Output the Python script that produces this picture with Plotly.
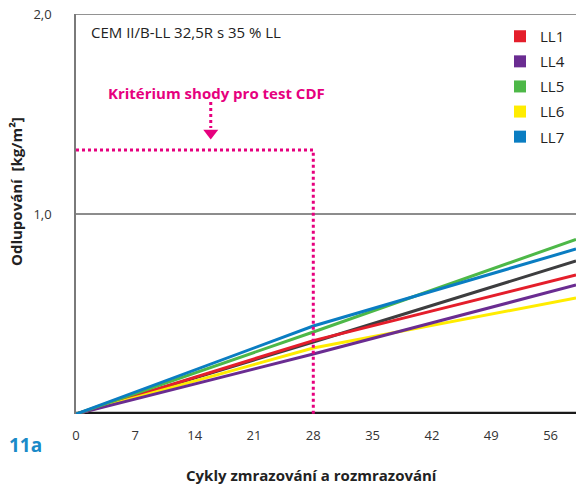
import plotly.graph_objects as go

# ---- data ----
cycles = [0, 28, 59]
series_names = ["LL1", "LL4", "LL5", "LL6", "LL7"]
ll1 = [0.0, 0.367, 0.695]
ll4 = [0.0, 0.300, 0.645]
ll5 = [0.0, 0.410, 0.873]
ll6 = [0.0, 0.330, 0.580]
ll7 = [0.0, 0.440, 0.825]
ref = [0.0, 0.360, 0.765]   # dark grey line (not in legend)
colors = ["#E41E2B", "#6A2C91", "#4DB848", "#FFEC00", "#0A7DC2"]
ref_color = "#3D3D3F"

crit_cycle = 28
crit_value = 1.32

x_ticks = [0, 7, 14, 21, 28, 35, 42, 49, 56]
y_ticks = [1, 2]
y_ticklabels = ["1,0", "2,0"]

FONT = "Open Sans"
PINK = "#E6007E"

fig = go.Figure()

values = {"LL1": ll1, "LL4": ll4, "LL5": ll5, "LL6": ll6, "LL7": ll7}
fig.add_trace(go.Scatter(x=cycles, y=ref, mode="lines",
                         line=dict(color=ref_color, width=3),
                         showlegend=False, hoverinfo="skip"))
for name, col in zip(["LL1", "LL6", "LL4", "LL5", "LL7"],
                     [colors[0], colors[3], colors[1], colors[2], colors[4]]):
    fig.add_trace(go.Scatter(x=cycles, y=values[name], mode="lines",
                             line=dict(color=col, width=3),
                             showlegend=False, hoverinfo="skip"))

# legend entries as squares
for name, col in zip(series_names, colors):
    fig.add_trace(go.Scatter(x=[None], y=[None], mode="markers", name=name,
                             marker=dict(symbol="square", size=11, color=col),
                             legendgroup=name, showlegend=True))

# criterion dotted lines
fig.add_trace(go.Scatter(x=[0, crit_cycle, crit_cycle],
                         y=[crit_value, crit_value, 0], mode="lines",
                         line=dict(color=PINK, width=3, dash="dot"),
                         showlegend=False, hoverinfo="skip"))

# arrow: dotted shaft + triangle head
fig.add_trace(go.Scatter(x=[15.9, 15.9], y=[1.56, 1.43], mode="lines",
                         line=dict(color=PINK, width=3, dash="dot"),
                         showlegend=False, hoverinfo="skip"))
fig.add_trace(go.Scatter(x=[15.9], y=[1.405], mode="markers",
                         marker=dict(symbol="triangle-down", size=13, color=PINK),
                         showlegend=False, hoverinfo="skip"))

shapes = [
    dict(type="line", xref="x", yref="y", x0=0, x1=59, y0=2, y1=2,
         line=dict(color="#6E6E6E", width=1.5), layer="below"),
    dict(type="line", xref="x", yref="y", x0=0, x1=59, y0=1, y1=1,
         line=dict(color="#1A1A1A", width=1), layer="below"),
    dict(type="line", xref="x", yref="y", x0=0, x1=59, y0=0, y1=0,
         line=dict(color="#1A1A1A", width=4.5), layer="below"),
]

annotations = [
    dict(text="CEM II/B-LL 32,5R s 35 % LL", xref="paper", yref="paper",
         x=(89 - 76) / 500, y=(414 - 32) / 400, xanchor="left", yanchor="middle",
         showarrow=False, font=dict(family=FONT, size=15, color="#222")),
    dict(text="<b>Kritérium shody pro test CDF</b>", xref="paper", yref="paper",
         x=(216 - 76) / 500, y=(414 - 93) / 400, xanchor="center", yanchor="middle",
         showarrow=False, font=dict(family=FONT, size=15, color=PINK)),
    dict(text="<b>11a</b>", xref="paper", yref="paper",
         x=(7 - 76) / 500, y=(414 - 445) / 400, xanchor="left", yanchor="middle",
         showarrow=False, font=dict(family=FONT, size=19, color="#1A8AC8")),
    dict(text="<b>Cykly zmrazování a rozmrazování</b>", xref="paper", yref="paper",
         x=(312 - 76) / 500, y=(414 - 475) / 400, xanchor="center", yanchor="middle",
         showarrow=False, font=dict(family=FONT, size=15, color="#222")),
    dict(text="<b>Odlupování  [kg/m²]</b>", xref="paper", yref="paper",
         x=(16 - 76) / 500, y=(414 - 192) / 400, xanchor="center", yanchor="middle",
         textangle=-90, showarrow=False, font=dict(family=FONT, size=15, color="#222")),
]

fig.update_layout(
    width=579, height=484,
    margin=dict(l=76, r=3, t=14, b=70),
    paper_bgcolor="white", plot_bgcolor="white",
    font=dict(family=FONT, size=13, color="#333"),
    shapes=shapes, annotations=annotations,
    showlegend=True,
    legend=dict(x=(500 - 76) / 500, y=(414 - 20) / 400, xanchor="left", yanchor="top",
                bgcolor="rgba(0,0,0,0)", font=dict(family=FONT, size=15, color="#222"),
                tracegroupgap=2.6, itemsizing="constant"),
    xaxis=dict(range=[0, 59], tickvals=x_ticks, ticktext=[str(v) for v in x_ticks],
               showgrid=False, zeroline=False, showline=False,
               ticks="outside", ticklen=9, tickcolor="rgba(0,0,0,0)",
               tickfont=dict(family=FONT, size=13, color="#333"), fixedrange=True),
    yaxis=dict(range=[0, 2], tickvals=y_ticks, ticktext=y_ticklabels,
               showgrid=False, zeroline=False, showline=True,
               linecolor="#7A7A7A", linewidth=1.5,
               ticks="outside", ticklen=20, tickcolor="rgba(0,0,0,0)",
               tickfont=dict(family=FONT, size=13, color="#333"), fixedrange=True),
)

fig.write_html("out.html")
